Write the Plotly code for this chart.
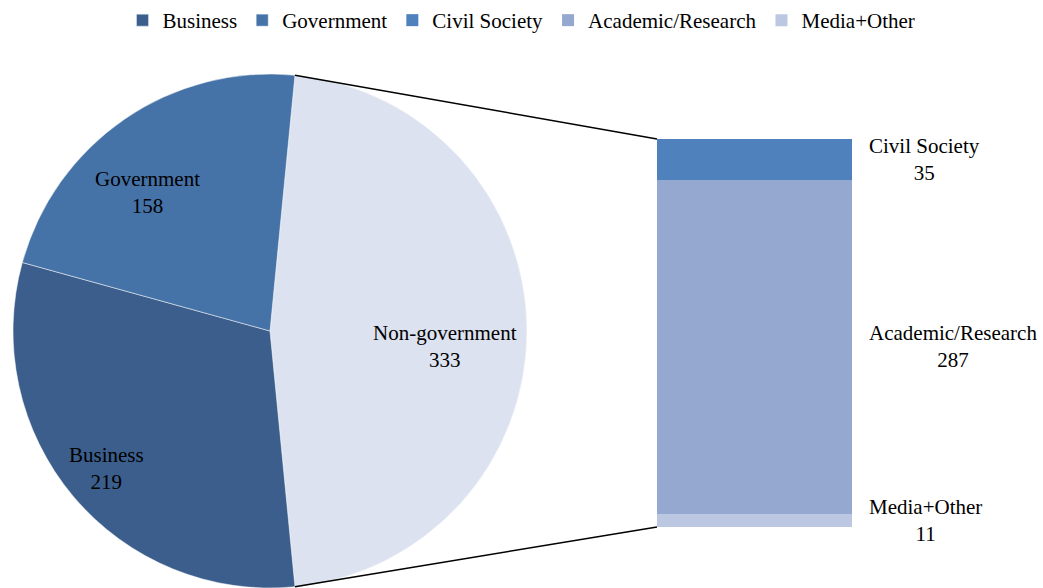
import math
import plotly.graph_objects as go

# ---- data ----
pie_labels = ["Non-government", "Business", "Government"]
pie_values = [333, 219, 158]
pie_colors = ["#DCE2EF", "#3B5E8C", "#4572A7"]

bar_labels = ["Civil Society", "Academic/Research", "Media+Other"]  # top to bottom
bar_values = [35, 287, 11]
bar_colors = ["#4F81BD", "#95A9D0", "#BCC8E2"]

legend_order = ["Business", "Government", "Civil Society", "Academic/Research", "Media+Other"]

# ---- layout geometry ----
W, H = 1043, 588
FONT = "Liberation Serif"
FS = 21
pie_dom_x = [13 / W, 527 / W]
pie_dom_y = [0.0, 514 / H]
bar_dom_x = [657 / W, 852 / W]
bar_dom_y = [(H - 527) / H, (H - 139) / H]

total = sum(pie_values)
ng_share = pie_values[0] / total
rotation = 90 - ng_share * 360 / 2  # centre the expanded slice at 3 o'clock

fig = go.Figure()

fig.add_trace(go.Pie(
    labels=pie_labels, values=pie_values, sort=False, direction="clockwise",
    rotation=rotation, marker=dict(colors=pie_colors, line=dict(color="white", width=0.5)),
    textinfo="none", showlegend=False, domain=dict(x=pie_dom_x, y=pie_dom_y),
    hoverinfo="label+value",
))

# legend-only entries for pie categories
color_of = dict(zip(pie_labels, pie_colors))
for rank, name in enumerate(legend_order[:2]):
    fig.add_trace(go.Bar(x=[None], y=[None], name=name, marker_color=color_of[name],
                         legendrank=rank + 1, showlegend=True))

# stacked bar (bottom to top)
bl, bv, bc = bar_labels[::-1], bar_values[::-1], bar_colors[::-1]
for lab, val, col in zip(bl, bv, bc):
    fig.add_trace(go.Bar(x=[0], y=[val], width=1, name=lab, marker=dict(color=col, line=dict(width=0)),
                         legendrank=legend_order.index(lab) + 1, hoverinfo="name+y"))

# pie labels
cx = (pie_dom_x[0] + pie_dom_x[1]) / 2 * W
cy = H - (pie_dom_y[0] + pie_dom_y[1]) / 2 * H
r = min((pie_dom_x[1] - pie_dom_x[0]) * W, (pie_dom_y[1] - pie_dom_y[0]) * H) / 2
label_frac = [0.685, 0.83, 0.72]
label_shift = [5, 0, -7]  # small angular offsets (degrees) to mimic original label placement
ang = rotation
annotations = []
for lab, val, fr, sh in zip(pie_labels, pie_values, label_frac, label_shift):
    span = val / total * 360
    mid = math.radians(ang + span / 2 + sh)
    px = cx + fr * r * math.sin(mid)
    py = cy - fr * r * math.cos(mid)
    annotations.append(dict(x=px / W, y=1 - py / H, xref="paper", yref="paper",
                            xanchor="center", yanchor="middle",
                            text=f"{lab}<br>{val}", showarrow=False, align="center",
                            font=dict(family=FONT, size=FS, color="black")))
    ang += span

# bar labels
cum = 0
for lab, val in zip(bl, bv):
    annotations.append(dict(x=bar_dom_x[1] + 15 / W, y=cum + val / 2, xref="paper", yref="y",
                            xanchor="left", yanchor="middle", text=f"{lab}<br>{val}",
                            showarrow=False, align="center",
                            font=dict(family=FONT, size=FS, color="black")))
    cum += val

# connector lines
shapes = []
a0 = math.radians(rotation)
a1 = math.radians(rotation + ng_share * 360)
for a, by in ((a0, bar_dom_y[1]), (a1, bar_dom_y[0])):
    px = cx + r * math.sin(a)
    py = cy - r * math.cos(a)
    shapes.append(dict(type="line", xref="paper", yref="paper", x0=px / W, y0=1 - py / H,
                       x1=bar_dom_x[0], y1=by, line=dict(color="black", width=1.5)))

fig.update_layout(
    width=W, height=H, margin=dict(l=0, r=0, t=0, b=0),
    paper_bgcolor="white", plot_bgcolor="white", barmode="stack",
    font=dict(family=FONT, size=FS, color="black"),
    xaxis=dict(domain=bar_dom_x, range=[-0.5, 0.5], visible=False, fixedrange=True),
    yaxis=dict(domain=bar_dom_y, range=[0, sum(bar_values)], visible=False, fixedrange=True),
    legend=dict(orientation="h", x=0.5, xanchor="center", y=1.0, yanchor="top",
                font=dict(family=FONT, size=FS), traceorder="normal", itemwidth=30),
    annotations=annotations, shapes=shapes,
)

fig.write_html("out.html", config={"displayModeBar": False},
               post_script="document.body.style.margin='0';")
